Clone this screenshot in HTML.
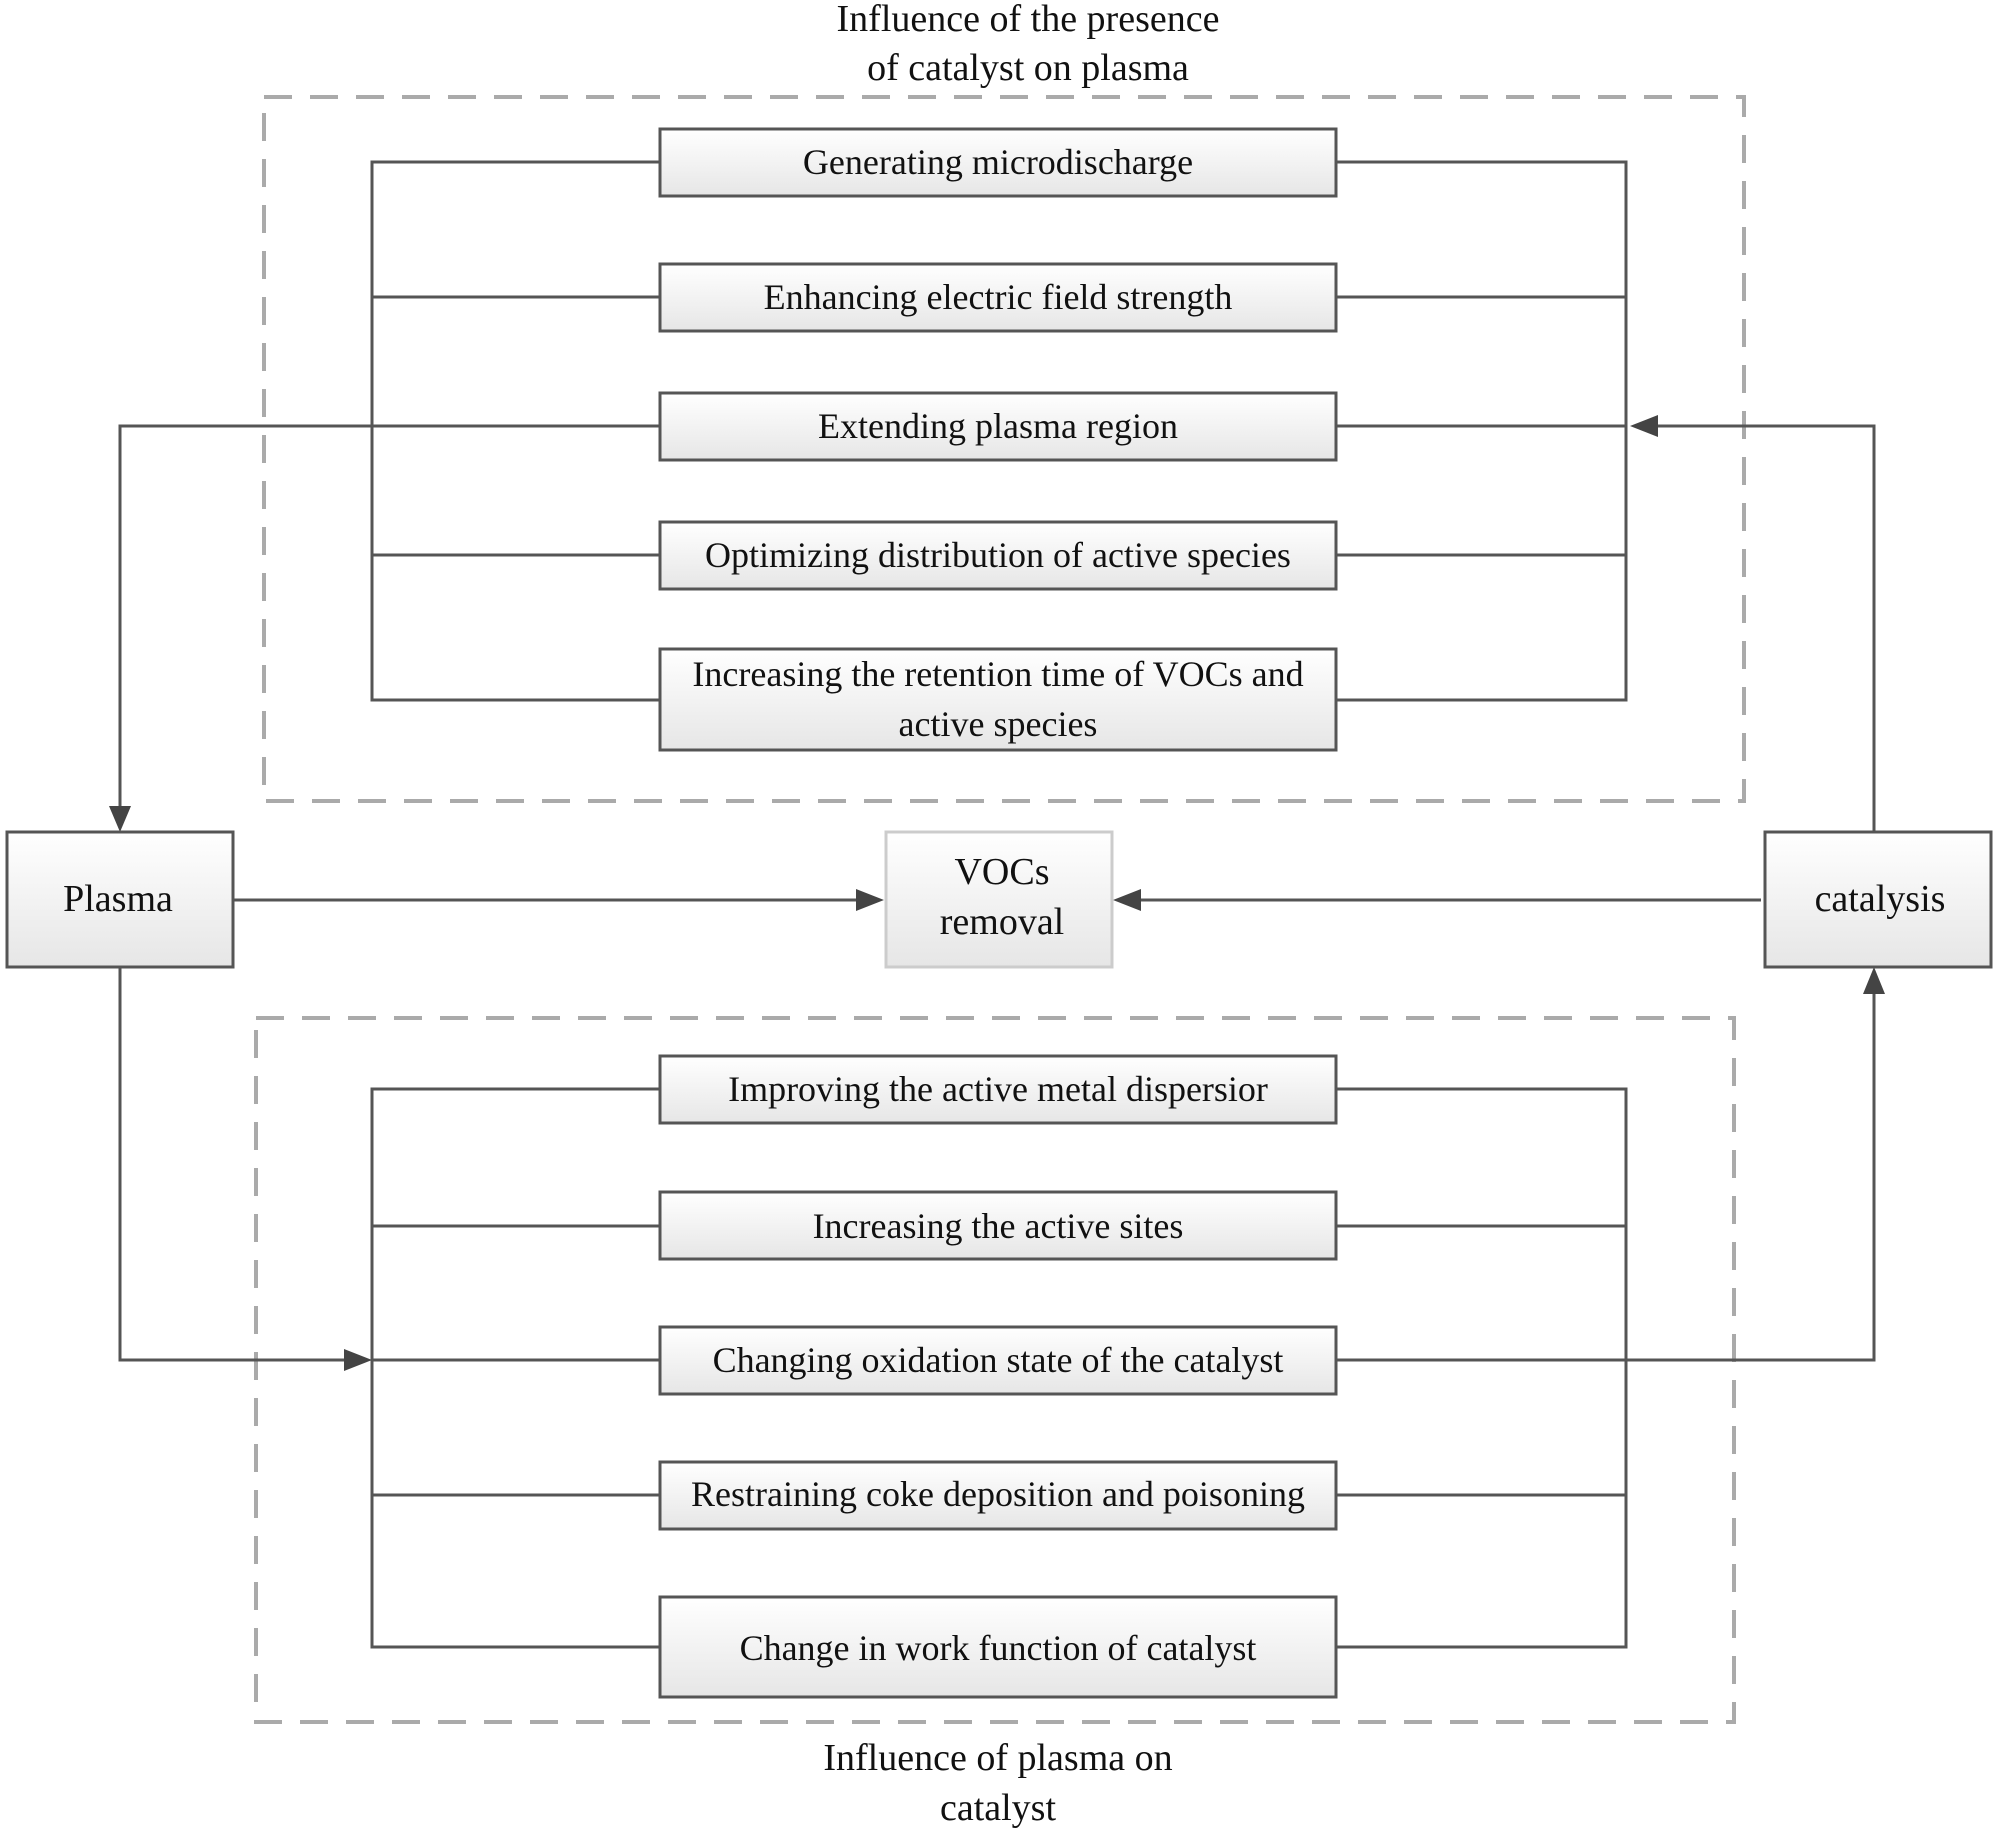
<!DOCTYPE html>
<html><head><meta charset="utf-8"><style>
html,body{margin:0;padding:0;background:#fff;}
svg{display:block;}
text{font-family:"Liberation Serif",serif;fill:#111;}
</style></head><body>
<svg width="2000" height="1829" viewBox="0 0 2000 1829" xmlns="http://www.w3.org/2000/svg">
<defs>
<linearGradient id="g" x1="0" y1="0" x2="0" y2="1">
<stop offset="0" stop-color="#ffffff"/><stop offset="1" stop-color="#e6e6e6"/>
</linearGradient>
<marker id="a" markerWidth="10" markerHeight="8" refX="10" refY="4" orient="auto" markerUnits="userSpaceOnUse" viewBox="0 0 10 8">
</marker>
</defs>
<g fill="none" stroke="#aaa" stroke-width="4" stroke-dasharray="28,18">
<rect x="264" y="97" width="1480" height="704"/>
<rect x="256" y="1018" width="1478" height="704"/>
</g>
<g stroke="#555" stroke-width="3" fill="none">
<!-- top tree -->
<polyline points="660,162 372,162 372,700 660,700"/>
<line x1="372" y1="297" x2="660" y2="297"/>
<line x1="372" y1="555" x2="660" y2="555"/>
<polyline points="1336,162 1626,162 1626,700 1336,700"/>
<line x1="1336" y1="297" x2="1626" y2="297"/>
<line x1="1336" y1="426" x2="1626" y2="426"/>
<line x1="1336" y1="555" x2="1626" y2="555"/>
<polyline points="660,426 120,426 120,812"/>
<polyline points="1874,832 1874,426 1650,426"/>
<!-- middle -->
<line x1="233" y1="900" x2="862" y2="900"/>
<line x1="1761" y1="900" x2="1135" y2="900"/>
<!-- bottom tree -->
<polyline points="660,1089 372,1089 372,1647 660,1647"/>
<line x1="372" y1="1226" x2="660" y2="1226"/>
<line x1="372" y1="1495" x2="660" y2="1495"/>
<polyline points="1336,1089 1626,1089 1626,1647 1336,1647"/>
<line x1="1336" y1="1226" x2="1626" y2="1226"/>
<line x1="1336" y1="1495" x2="1626" y2="1495"/>
<polyline points="120,967 120,1360 350,1360"/>
<polyline points="660,1360 372,1360"/>
<polyline points="1336,1360 1874,1360 1874,988"/>
</g>
<g fill="#444">
<polygon points="120,832 109,806 131,806"/>
<polygon points="1630,426 1658,415 1658,437"/>
<polygon points="884,900 856,889 856,911"/>
<polygon points="1113,900 1141,889 1141,911"/>
<polygon points="372,1360 344,1349 344,1371"/>
<polygon points="1874,967 1863,994 1885,994"/>
</g>
<g fill="url(#g)" stroke="#555" stroke-width="3">
<rect x="660" y="129" width="676" height="67"/>
<rect x="660" y="264" width="676" height="67"/>
<rect x="660" y="393" width="676" height="67"/>
<rect x="660" y="522" width="676" height="67"/>
<rect x="660" y="649" width="676" height="101"/>
<rect x="660" y="1056" width="676" height="67"/>
<rect x="660" y="1192" width="676" height="67"/>
<rect x="660" y="1327" width="676" height="67"/>
<rect x="660" y="1462" width="676" height="67"/>
<rect x="660" y="1597" width="676" height="100"/>
<rect x="7" y="832" width="226" height="135"/>
<rect x="1765" y="832" width="226" height="135"/>
</g>
<rect x="886" y="832" width="226" height="135" fill="url(#g)" stroke="#ccc" stroke-width="3"/>
<g font-size="36" text-anchor="middle">
<text x="998" y="174">Generating microdischarge</text>
<text x="998" y="309">Enhancing electric field strength</text>
<text x="998" y="438">Extending plasma region</text>
<text x="998" y="567">Optimizing distribution of active species</text>
<text x="998" y="686">Increasing the retention time of VOCs and</text>
<text x="998" y="736">active species</text>
<text x="998" y="1101">Improving the active metal dispersior</text>
<text x="998" y="1238">Increasing the active sites</text>
<text x="998" y="1372">Changing oxidation state of the catalyst</text>
<text x="998" y="1506">Restraining coke deposition and poisoning</text>
<text x="998" y="1660">Change in work function of catalyst</text>
</g>
<g font-size="38" text-anchor="middle">
<text x="1028" y="31">Influence of the presence</text>
<text x="1028" y="80">of catalyst on plasma</text>
<text x="998" y="1770">Influence of plasma on</text>
<text x="998" y="1820">catalyst</text>
<text x="118" y="911">Plasma</text>
<text x="1002" y="884">VOCs</text>
<text x="1002" y="934">removal</text>
<text x="1880" y="911">catalysis</text>
</g>
</svg>
</body></html>
